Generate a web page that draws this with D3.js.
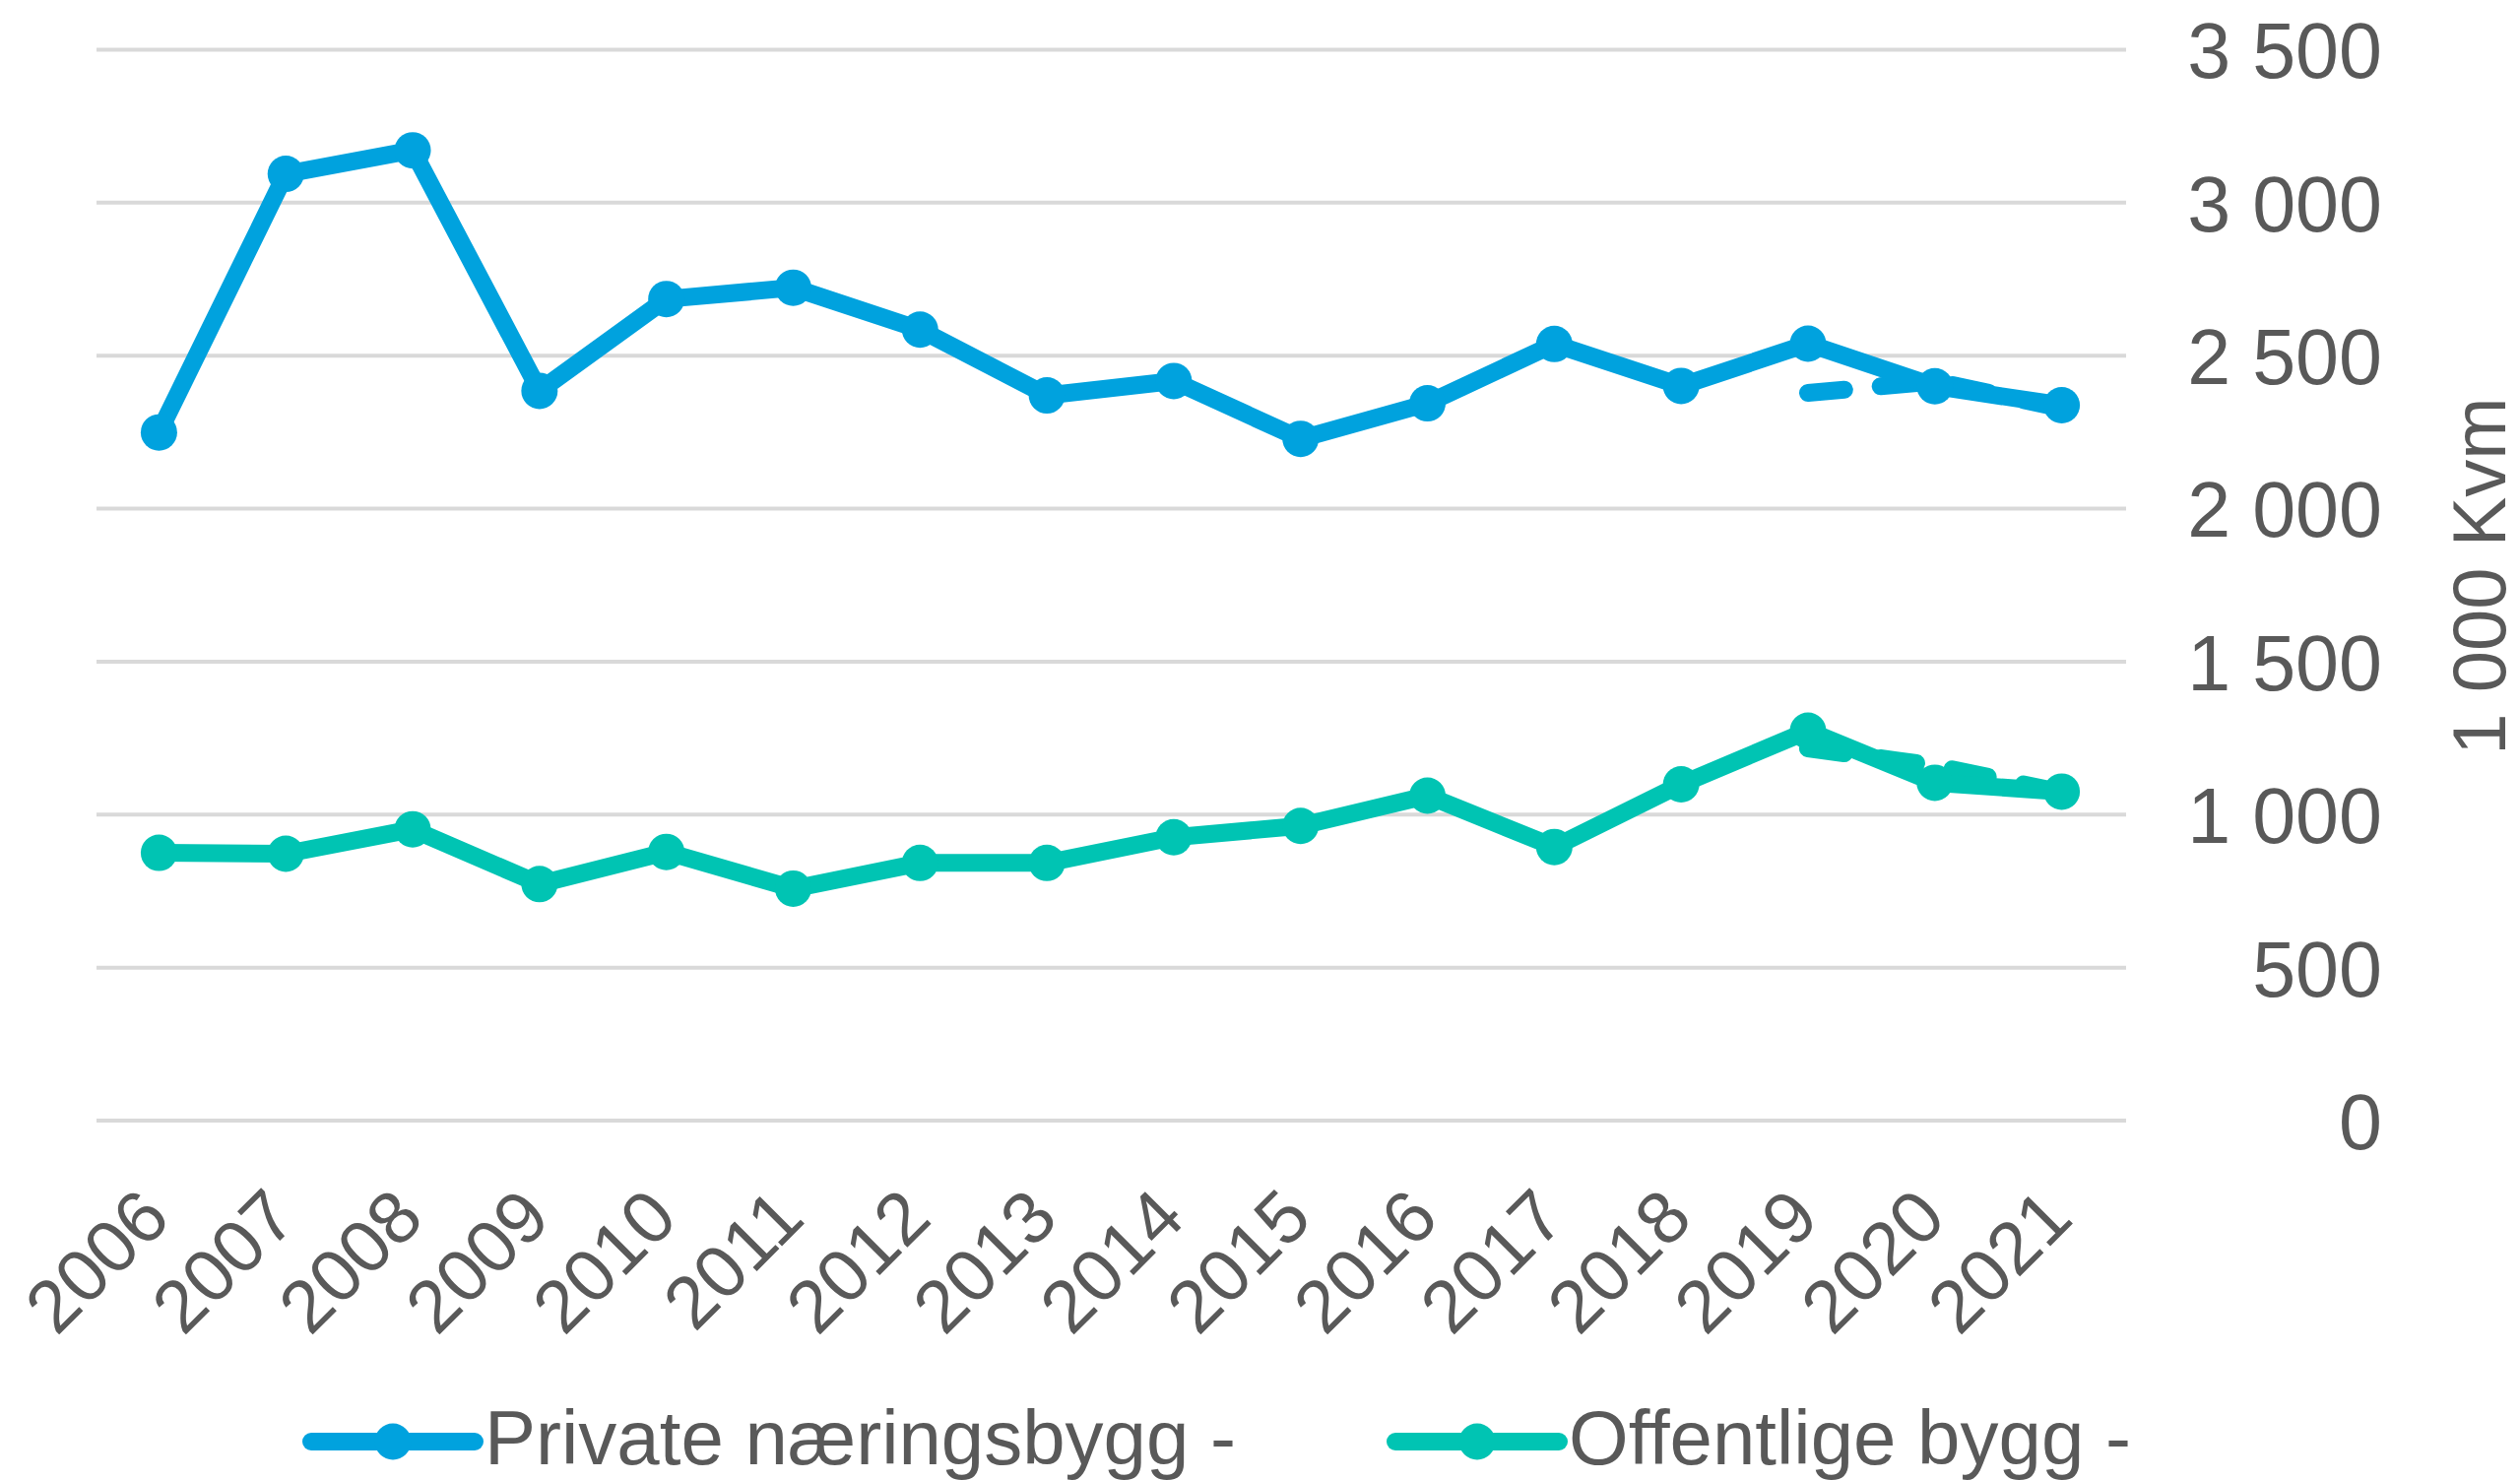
<!DOCTYPE html>
<html>
<head>
<meta charset="utf-8">
<script src="https://d3js.org/d3.v7.min.js"></script>
<style>
  body { margin: 0; background: #fff; }
  text { font-family: "Liberation Sans", Arial, sans-serif; fill: #595959; }
</style>
</head>
<body>
<div id="chart"></div>
<script>
// canvas
var width = 2559
var height = 1503

// data (1000 kvm)
var years = ["2006","2007","2008","2009","2010","2011","2012","2013","2014","2015","2016","2017","2018","2019","2020","2021"]
var privat = [2249, 3094, 3171, 2385, 2685, 2722, 2585, 2370, 2417, 2228, 2344, 2538, 2401, 2539, 2400, 2338]
var offentlig = [875, 872, 952, 773, 878, 758, 842, 842, 926, 963, 1062, 894, 1099, 1274, 1104, 1075]
// dashed lines for the last three years
var dashYears = ["2019", "2020", "2021"]
var privatDash = [2378, 2416, 2328]
var offentligDash = [1216, 1160, 1073]
var yTicks = [0, 500, 1000, 1500, 2000, 2500, 3000, 3500]
var seriesNames = ["Private næringsbygg -", "Offentlige bygg -"]
var colors = ["#00A2DE", "#00C4B3"]

var svg = d3.select("#chart")
  .append("svg")
    .attr("width", width)
    .attr("height", height)

var x = d3.scalePoint()
  .domain(years)
  .range([97, 2158])
  .padding(0.5)

var y = d3.scaleLinear()
  .domain([0, 3500])
  .range([1138, 50.4])

// gridlines
svg.append("g")
  .selectAll("line")
  .data(yTicks)
  .enter().append("line")
    .attr("x1", 98)
    .attr("x2", 2159)
    .attr("y1", function(d){ return y(d) })
    .attr("y2", function(d){ return y(d) })
    .attr("stroke", "#d9d9d9")
    .attr("stroke-width", 4)

// y axis on the right, labels right aligned
var fmt = function(d){ return d3.format(",")(d).replace(/,/g, " ") }
var yAxis = svg.append("g")
  .attr("transform", "translate(2419,0)")
  .call(d3.axisLeft(y).tickValues(yTicks).tickFormat(fmt).tickSize(0).tickPadding(0))
yAxis.select(".domain").remove()
yAxis.selectAll("text")
  .style("font-size", "79px")
  .style("font-family", "Liberation Sans, Arial, sans-serif")
  .attr("fill", "#595959")
  .attr("dy", "0.36em")

// y axis title
svg.append("text")
  .attr("transform", "translate(2544,585) rotate(-90)")
  .attr("text-anchor", "middle")
  .style("font-size", "76px")
  .text("1 000 Kvm")

// x labels, rotated
svg.append("g")
  .selectAll("text")
  .data(years)
  .enter().append("text")
    .attr("transform", function(d){ return "translate(" + (x(d) + 14) + ",1240) rotate(-45)" })
    .attr("text-anchor", "end")
    .style("font-size", "75px")
    .text(function(d){ return d })

var line = d3.line()
  .x(function(d){ return x(d.year) })
  .y(function(d){ return y(d.value) })

function drawSeries(vals, yrs, color, dashed) {
  var pts = yrs.map(function(yr, i){ return {year: yr, value: vals[i]} })
  var g = svg.append("g")
  g.append("path")
    .datum(pts)
    .attr("d", line)
    .attr("fill", "none")
    .attr("stroke", color)
    .attr("stroke-width", 18)
    .attr("stroke-linejoin", "round")
    .attr("stroke-linecap", "round")
    .attr("stroke-dasharray", dashed ? "37,37" : null)
  if (!dashed) {
    g.selectAll("circle")
      .data(pts)
      .enter().append("circle")
        .attr("cx", function(d){ return x(d.year) })
        .attr("cy", function(d){ return y(d.value) })
        .attr("r", 18.5)
        .attr("fill", color)
  }
}

drawSeries(privatDash, dashYears, colors[0], true)
drawSeries(offentligDash, dashYears, colors[1], true)
drawSeries(privat, years, colors[0], false)
drawSeries(offentlig, years, colors[1], false)

// legend
var legendX = [316, 1417]
var legend = svg.append("g")
  .selectAll("g")
  .data(seriesNames)
  .enter().append("g")
    .attr("transform", function(d, i){ return "translate(" + legendX[i] + ",1464)" })
legend.append("line")
  .attr("x1", 0).attr("x2", 166)
  .attr("y1", 0).attr("y2", 0)
  .attr("stroke", function(d, i){ return colors[i] })
  .attr("stroke-width", 18)
  .attr("stroke-linecap", "round")
legend.append("circle")
  .attr("cx", 83).attr("cy", 0).attr("r", 18.5)
  .attr("fill", function(d, i){ return colors[i] })
legend.append("text")
  .attr("x", 176)
  .attr("y", 23)
  .style("font-size", "78px")
  .text(function(d){ return d })
</script>
</body>
</html>
